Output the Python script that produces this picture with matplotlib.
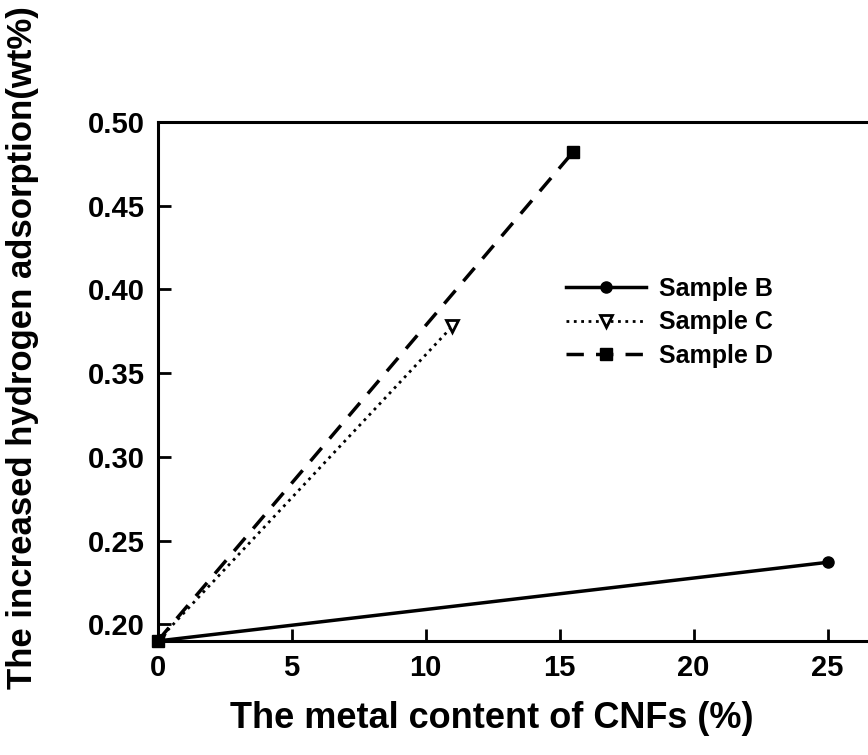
import matplotlib.pyplot as plt

plt.rcParams['font.family'] = ['Liberation Sans', 'DejaVu Sans']
plt.rcParams['font.weight'] = 'bold'

# data
b_x = [0, 25]
b_y = [0.19, 0.237]
c_x = [0, 11]
c_y = [0.19, 0.378]
d_x = [0, 15.5]
d_y = [0.19, 0.482]

xticks = [0, 5, 10, 15, 20, 25]
yticks = [0.20, 0.25, 0.30, 0.35, 0.40, 0.45, 0.50]

fig = plt.figure(figsize=(8.68, 7.55), dpi=100)
# axes runs past the right edge of the figure, as in the cropped original
ax = fig.add_axes([157.6 / 868, 114 / 755, 804 / 868, 519 / 755])

ax.plot(b_x, b_y, '-', color='black', lw=2.5, marker='o', ms=8, label='Sample B')
ax.plot(c_x, c_y, ':', color='black', lw=2, marker='v', ms=8, mfc='white',
        mew=2, label='Sample C')
ax.plot(d_x, d_y, '--', color='black', lw=2.5, marker='s', ms=8, dashes=(5, 3.5),
        label='Sample D', clip_on=False)

ax.set_xlim(0, 30)
ax.set_ylim(0.19, 0.50)
ax.set_xticks(xticks)
ax.set_yticks(yticks)
ax.set_yticklabels(['%.2f' % v for v in yticks])
ax.tick_params(direction='in', length=9, width=2, labelsize=21, pad=9)
for s in ax.spines.values():
    s.set_linewidth(2.2)

ax.set_xlabel('The metal content of CNFs (%)', fontsize=26, fontweight='bold')
ax.xaxis.set_label_coords(0.416, -0.115)
ax.set_ylabel('The increased hydrogen adsorption(wt%)', fontsize=25, fontweight='bold')
ax.yaxis.set_label_coords(-0.147, 0.565)

ax.legend(loc='upper left', bbox_to_anchor=(0.48, 0.745), frameon=False,
          handlelength=3.2, handletextpad=0.5, labelspacing=0.38,
          prop={'weight': 'bold', 'size': 18})

fig.savefig('out.png', dpi=100)
